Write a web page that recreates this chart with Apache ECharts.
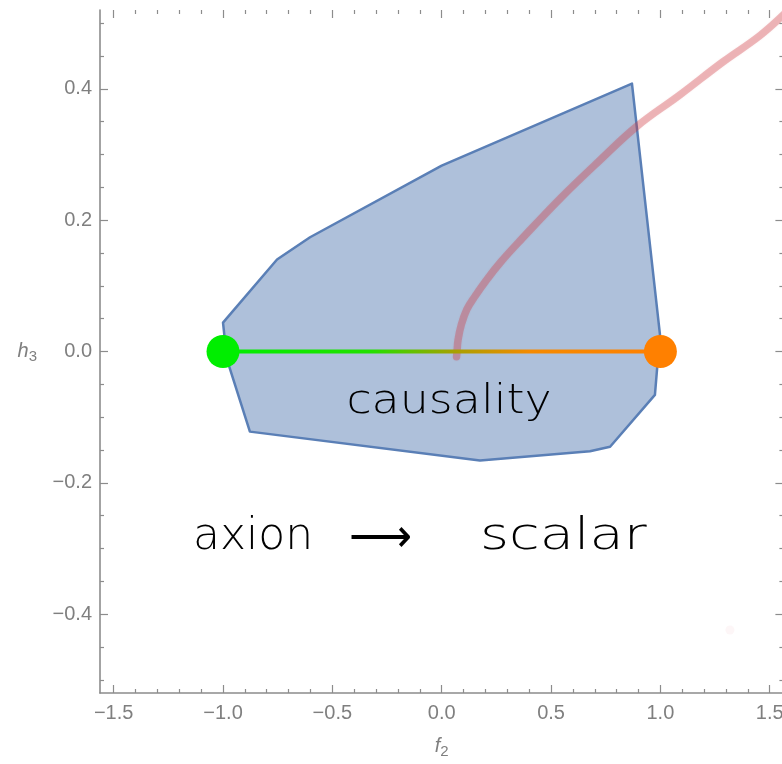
<!DOCTYPE html>
<html>
<head>
<meta charset="utf-8">
<script src="https://cdn.jsdelivr.net/npm/echarts@6/dist/echarts.min.js"></script>
<style>
html,body{margin:0;padding:0;background:#fff;}
#chart{width:782px;height:764px;}
</style>
</head>
<body>
<div id="chart"></div>
<script>
// ---- data ----
const xMajorTicks = [-1.5, -1.0, -0.5, 0.0, 0.5, 1.0, 1.5];
const xMinorTicks = [-1.4, -1.3, -1.2, -1.1, -0.9, -0.8, -0.7, -0.6, -0.4, -0.3, -0.2, -0.1,
                     0.1, 0.2, 0.3, 0.4, 0.6, 0.7, 0.8, 0.9, 1.1, 1.2, 1.3, 1.4];
const yMajorTicks = [-0.4, -0.2, 0.0, 0.2, 0.4];
const yMinorTicks = [-0.5, -0.45, -0.35, -0.3, -0.25, -0.15, -0.1, -0.05,
                     0.05, 0.1, 0.15, 0.25, 0.3, 0.35, 0.45, 0.5];

// causality region (polygon vertices)
const regionF2 = [-1.000, -0.753, -0.602, 0.000, 0.870, 0.998, 0.975, 0.770, 0.678, 0.175, -0.877, -0.982];
const regionH3 = [ 0.044,  0.140,  0.174, 0.283, 0.408, 0.026, -0.066, -0.145, -0.152, -0.166, -0.122, -0.012];

// red curve
const curveF2 = [0.068, 0.070, 0.075, 0.090, 0.115, 0.150, 0.205, 0.272, 0.362, 0.545, 0.726, 0.893, 1.090, 1.286, 1.455, 1.570];
const curveH3 = [-0.008, 0.000, 0.018, 0.041, 0.064, 0.083, 0.109, 0.137, 0.170, 0.234, 0.292, 0.343, 0.391, 0.441, 0.481, 0.515];

// stray faint point
const strayF2 = [1.318];
const strayH3 = [-0.424];

// axion -> scalar segment endpoints
const segF2 = [-1.0, 1.0];
const segH3 = [0.0, 0.0];
const segNames = ['axion', 'scalar'];

// ---- chart ----
const chart = echarts.init(document.getElementById('chart'), null, {renderer: 'canvas'});

const GRAY = '#8c8c8c';
const LABEL = '#7f7f7f';
const fmt = v => {
  const s = Math.abs(v).toFixed(1);
  return (v < -1e-9 ? '\u2212' : '') + s;
};

function xAxisDef(pos, ticks, len, withLabel, withLine) {
  return {
    type: 'value', position: pos, min: -1.5625, max: 1.5625,
    splitLine: {show: false},
    axisLine: {show: withLine, onZero: false, lineStyle: {color: GRAY, width: 1.6}},
    axisTick: {show: true, inside: true, length: len, customValues: ticks, lineStyle: {color: GRAY, width: 1.2}},
    axisLabel: withLabel ? {show: true, customValues: ticks, formatter: fmt, color: LABEL, fontSize: 20,
                 fontFamily: 'Liberation Sans', margin: 10} : {show: false},
  };
}
function yAxisDef(pos, ticks, len, withLabel, withLine) {
  return {
    type: 'value', position: pos, min: -0.52, max: 0.52,
    splitLine: {show: false},
    axisLine: {show: withLine, onZero: false, lineStyle: {color: GRAY, width: 1.6}},
    axisTick: {show: true, inside: true, length: len, customValues: ticks, lineStyle: {color: GRAY, width: 1.2}},
    axisLabel: withLabel ? {show: true, customValues: ticks, formatter: fmt, color: LABEL, fontSize: 20,
                 fontFamily: 'Liberation Sans', margin: 8} : {show: false},
  };
}

const xAxes = [
  xAxisDef('bottom', xMajorTicks, 8, true, true),
  xAxisDef('bottom', xMinorTicks, 4, false, false),
  xAxisDef('top', xMajorTicks, 8, false, false),
  xAxisDef('top', xMinorTicks, 4, false, false),
];
xAxes[0].name = '{i|f}{s|2}';
xAxes[0].nameLocation = 'middle';
xAxes[0].nameGap = 41;
xAxes[0].nameTextStyle = {rich: {
  i: {fontStyle: 'italic', fontSize: 20, color: LABEL, fontFamily: 'Liberation Sans'},
  s: {fontSize: 15, color: LABEL, fontFamily: 'Liberation Sans', padding: [10, 0, 0, 0]}
}};

const yAxes = [
  yAxisDef('left', yMajorTicks, 8, true, true),
  yAxisDef('left', yMinorTicks, 4, false, false),
  yAxisDef('right', yMajorTicks, 8, false, false),
  yAxisDef('right', yMinorTicks, 4, false, false),
];
yAxes[0].name = '{i|h}{s|3}';
yAxes[0].nameLocation = 'middle';
yAxes[0].nameRotate = 0;
yAxes[0].nameGap = 63;
yAxes[0].nameTextStyle = {rich: {
  i: {fontStyle: 'italic', fontSize: 20, color: LABEL, fontFamily: 'Liberation Sans'},
  s: {fontSize: 15, color: LABEL, fontFamily: 'Liberation Sans', padding: [10, 0, 0, 0]}
}};

const option = {
  animation: false,
  backgroundColor: '#fff',
  grid: {left: 100, top: 10, width: 683.4, height: 683, containLabel: false, outerBoundsMode: 'none'},
  xAxis: xAxes,
  yAxis: yAxes,
  series: [
    {
      type: 'custom',
      name: 'region',
      xAxisIndex: 0, yAxisIndex: 0,
      data: [[regionF2[0], regionH3[0]]],
      z: 1,
      renderItem: function (params, api) {
        const pts = regionF2.map((x, i) => api.coord([x, regionH3[i]]));
        return {
          type: 'polygon',
          shape: {points: pts},
          style: {fill: 'rgba(94,129,181,0.5)', stroke: '#5a7fb6', lineWidth: 2.5, lineJoin: 'round'}
        };
      }
    },
    {
      type: 'line',
      name: 'curve',
      data: curveF2.map((x, i) => [x, curveH3[i]]),
      smooth: 0.4,
      showSymbol: false,
      symbol: 'none',
      z: 2,
      lineStyle: {color: 'rgba(205,55,65,0.33)', width: 7.5, cap: 'round',
                  shadowBlur: 2, shadowColor: 'rgba(205,55,65,0.25)'}
    },
    {
      type: 'scatter',
      name: 'stray',
      data: strayF2.map((x, i) => [x, strayH3[i]]),
      symbolSize: 9,
      z: 2,
      itemStyle: {color: 'rgba(210,80,90,0.05)', opacity: 1}
    },
    {
      type: 'line',
      name: 'segment',
      data: segF2.map((x, i) => [x, segH3[i]]),
      showSymbol: false,
      symbol: 'none',
      z: 3,
      lineStyle: {
        width: 4,
        color: new echarts.graphic.LinearGradient(0, 0, 1, 0, [
          {offset: 0, color: '#00ee00'},
          {offset: 0.34, color: '#22e000'},
          {offset: 0.53, color: '#a8a000'},
          {offset: 0.7, color: '#f58a00'},
          {offset: 1, color: '#ff8000'}
        ])
      }
    },
    {
      type: 'scatter',
      name: 'endpoints',
      data: segF2.map((x, i) => ({name: segNames[i], value: [x, segH3[i]],
        itemStyle: {color: i === 0 ? '#00ee00' : '#ff8000', opacity: 1}})),
      symbolSize: 33,
      itemStyle: {opacity: 1},
      z: 4
    }
  ],
  graphic: [
    {type: 'text', z: 100, x: 449, y: 402, scaleX: 1.12,
      style: {text: 'causality', x: 0, y: 0, textAlign: 'center', textVerticalAlign: 'middle',
      fontSize: 41, fontFamily: 'DejaVu Sans', fontWeight: 200, fill: '#000'}},
    {type: 'text', z: 100, x: 193, y: 538,
      style: {text: 'axion', x: 0, y: 0, textAlign: 'left', textVerticalAlign: 'middle',
      fontSize: 44, fontFamily: 'DejaVu Sans', fontWeight: 200, fill: '#000'}},
    {type: 'text', z: 100, x: 380, y: 540,
      style: {text: '\u27F6', x: 0, y: 0, textAlign: 'center', textVerticalAlign: 'middle',
      fontSize: 44, fontFamily: 'DejaVu Sans', fontWeight: 200, fill: '#000'}},
    {type: 'text', z: 100, x: 480, y: 538, scaleX: 1.27,
      style: {text: 'scalar', x: 0, y: 0, textAlign: 'left', textVerticalAlign: 'middle',
      fontSize: 44, fontFamily: 'DejaVu Sans', fontWeight: 200, fill: '#000'}}
  ]
};
chart.setOption(option);
</script>
</body>
</html>
